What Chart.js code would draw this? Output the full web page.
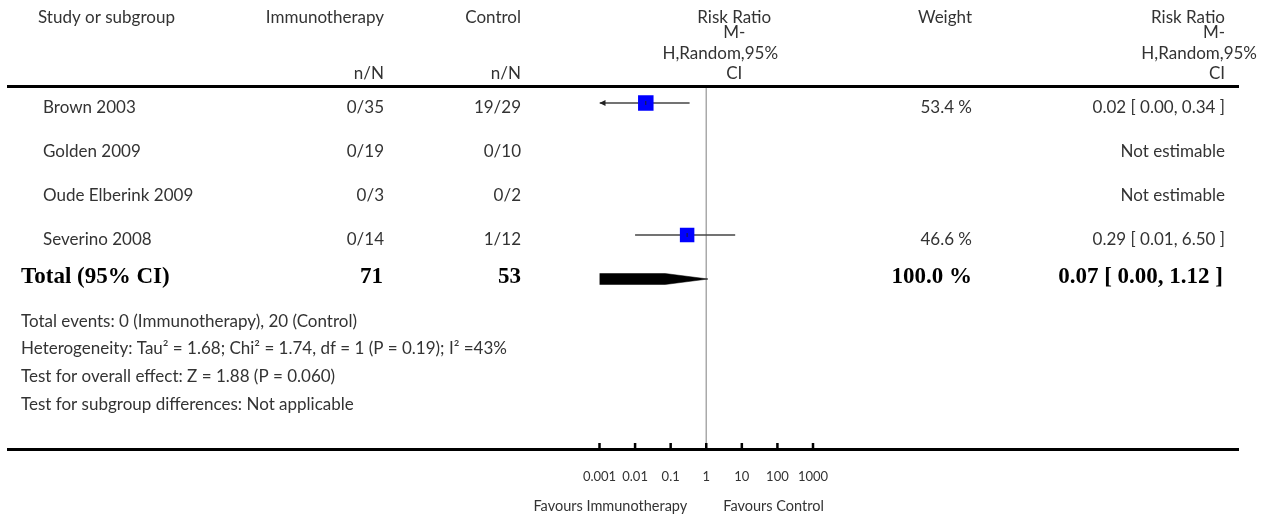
<!DOCTYPE html>
<html>
<head>
<meta charset="utf-8">
<script src="https://cdn.jsdelivr.net/npm/chart.js@4.4.1/dist/chart.umd.min.js"></script>
<style>
  html, body { margin: 0; padding: 0; background: #fff; }
  #forest { display: block; }
</style>
</head>
<body>
<canvas id="forest" width="1270" height="520"></canvas>
<script>
// Studies (rows from top)
const studies = ['Brown 2003', 'Golden 2009', 'Oude Elberink 2009', 'Severino 2008'];
const immunoEvents = ['0/35', '0/19', '0/3', '0/14'];
const controlEvents = ['19/29', '0/10', '0/2', '1/12'];
const riskRatio = [0.02, null, null, 0.29];
const ciLow = [0.00, null, null, 0.01];
const ciHigh = [0.34, null, null, 6.50];
const weights = [53.4, null, null, 46.6];

// Pooled result
const totalLabel = 'Total (95% CI)';
const totalImmuno = '71';
const totalControl = '53';
const totalWeight = 100.0;
const totalRR = 0.07;
const totalLow = 0.00;
const totalHigh = 1.12;

const footnotes = [
  'Total events: 0 (Immunotherapy), 20 (Control)',
  'Heterogeneity: Tau\u00B2 = 1.68; Chi\u00B2 = 1.74, df = 1 (P = 0.19); I\u00B2 =43%',
  'Test for overall effect: Z = 1.88 (P = 0.060)',
  'Test for subgroup differences: Not applicable'
];

// Axis ticks
const tickValues = [0.001, 0.01, 0.1, 1, 10, 100, 1000];
const tickLabels = ['0.001', '0.01', '0.1', '1', '10', '100', '1000'];
const favoursLeft = 'Favours Immunotherapy';
const favoursRight = 'Favours Control';

// Layout (pixels)
const PLOT_TOP = 88, PLOT_BOTTOM = 449, FIRST_ROW = 103, ROW_STEP = 44;
const X_MIN = 0.001, X_MAX = 1000;
const totalRow = studies.length;
const COL_STUDY = 43, COL_IMM = 384, COL_CTL = 521, COL_W = 972, COL_RR = 1225;

const FONT = '"Lato", "Noto Sans", sans-serif';
const SERIF = '"Liberation Serif", "DejaVu Serif", serif';
const TEXT = '#333';
const MAIN = `17px ${FONT}`;
const BOLD = `bold 23px ${SERIF}`;

function fmt(v) { return v.toFixed(2); }
function rrText(i) {
  if (riskRatio[i] == null) return 'Not estimable';
  return `${fmt(riskRatio[i])} [ ${fmt(ciLow[i])}, ${fmt(ciHigh[i])} ]`;
}
const clipX = v => Math.min(Math.max(v, X_MIN), X_MAX);

// Datasets
const datasets = [];
studies.forEach((s, i) => {
  if (riskRatio[i] == null) return;
  datasets.push({
    type: 'scatter',
    showLine: true,
    data: [{ x: clipX(ciLow[i]), y: i }, { x: clipX(ciHigh[i]), y: i }],
    borderColor: '#444',
    borderWidth: 1.6,
    pointRadius: 0,
    order: 2
  });
});

const squares = [];
const squareRadius = [];
studies.forEach((s, i) => {
  if (riskRatio[i] == null) return;
  squares.push({ x: riskRatio[i], y: i });
  // side ~15px, scaled by sqrt(weight)
  squareRadius.push(15 * Math.sqrt(weights[i] / 50) / Math.SQRT2);
});
datasets.push({
  type: 'scatter',
  data: squares,
  pointStyle: 'rect',
  pointRadius: squareRadius,
  backgroundColor: '#0000ff',
  borderWidth: 0,
  order: 1
});

const dh = 0.125;
datasets.push({
  type: 'line',
  data: [
    { x: clipX(totalLow), y: totalRow - dh },
    { x: totalRR, y: totalRow - dh },
    { x: totalHigh, y: totalRow },
    { x: totalRR, y: totalRow + dh },
    { x: clipX(totalLow), y: totalRow + dh },
    { x: clipX(totalLow), y: totalRow - dh }
  ],
  fill: 'shape',
  backgroundColor: '#000',
  borderColor: '#000',
  borderWidth: 0.5,
  pointRadius: 0,
  tension: 0,
  order: 1
});

function text(ctx, str, x, y, align, font, color) {
  ctx.font = font || MAIN;
  ctx.fillStyle = color || TEXT;
  ctx.textAlign = align || 'left';
  ctx.textBaseline = 'alphabetic';
  ctx.fillText(str, x, y);
}

const forestPlugin = {
  id: 'forest',
  beforeDatasetsDraw(chart) {
    const { ctx, scales: { x } } = chart;
    const x1 = x.getPixelForValue(1);
    ctx.save();
    ctx.strokeStyle = '#aaa';
    ctx.lineWidth = 1.5;
    ctx.beginPath();
    ctx.moveTo(x1, PLOT_TOP);
    ctx.lineTo(x1, PLOT_BOTTOM);
    ctx.stroke();
    ctx.restore();
  },
  afterDatasetsDraw(chart) {
    const { ctx, scales: { x, y } } = chart;
    ctx.save();
    // arrows for clipped CIs, centre ticks inside squares
    studies.forEach((s, i) => {
      if (riskRatio[i] == null) return;
      const py = y.getPixelForValue(i);
      if (ciLow[i] < X_MIN) {
        const px = x.getPixelForValue(X_MIN);
        ctx.fillStyle = '#222';
        ctx.beginPath();
        ctx.moveTo(px, py);
        ctx.lineTo(px + 6, py - 3);
        ctx.lineTo(px + 6, py + 3);
        ctx.closePath();
        ctx.fill();
      }
      const pe = x.getPixelForValue(riskRatio[i]);
      ctx.strokeStyle = '#222';
      ctx.lineWidth = 1;
      ctx.beginPath();
      ctx.moveTo(pe, py - 2);
      ctx.lineTo(pe, py + 2);
      ctx.stroke();
    });
    ctx.restore();
  },
  afterDraw(chart) {
    const { ctx, scales: { x, y } } = chart;
    const x1 = x.getPixelForValue(1);
    ctx.save();

    // rules
    ctx.strokeStyle = '#000';
    ctx.lineWidth = 3;
    ctx.beginPath();
    ctx.moveTo(7, PLOT_TOP - 1.5);
    ctx.lineTo(1239, PLOT_TOP - 1.5);
    ctx.moveTo(7, PLOT_BOTTOM + 0.5);
    ctx.lineTo(1239, PLOT_BOTTOM + 0.5);
    ctx.stroke();

    // axis ticks
    ctx.lineWidth = 2.5;
    ctx.beginPath();
    tickValues.forEach(v => {
      const px = x.getPixelForValue(v);
      ctx.moveTo(px, PLOT_BOTTOM - 6);
      ctx.lineTo(px, PLOT_BOTTOM);
    });
    ctx.stroke();
    tickValues.forEach((v, i) => {
      text(ctx, tickLabels[i], x.getPixelForValue(v), 481, 'center', `13px ${FONT}`);
    });
    text(ctx, favoursLeft, x1 - 19, 511, 'right', `14.5px ${FONT}`);
    text(ctx, favoursRight, x1 + 17, 511, 'left', `14.5px ${FONT}`);

    // header
    text(ctx, 'Study or subgroup', 38, 22.5, 'left');
    text(ctx, 'Immunotherapy', COL_IMM, 22.5, 'right');
    text(ctx, 'Control', COL_CTL, 22.5, 'right');
    text(ctx, 'n/N', COL_IMM, 79, 'right');
    text(ctx, 'n/N', COL_CTL, 79, 'right');
    text(ctx, 'Weight', COL_W, 22.5, 'right');
    const rrHead = ['Risk Ratio', 'M-', 'H,Random,95%', 'CI'];
    const rrHeadY = [22.5, 38, 59, 79];
    const midCentre = x1 + 28;
    rrHead.forEach((h, i) => {
      text(ctx, h, i === 2 ? midCentre - 14 : midCentre, rrHeadY[i], 'center');
      // the long line overflows the right column
      text(ctx, h, i === 2 ? 1257 : COL_RR, rrHeadY[i], 'right');
    });

    // study rows
    studies.forEach((s, i) => {
      const py = y.getPixelForValue(i) + 10;
      text(ctx, s, COL_STUDY, py, 'left');
      text(ctx, immunoEvents[i], COL_IMM, py, 'right');
      text(ctx, controlEvents[i], COL_CTL, py, 'right');
      if (weights[i] != null) text(ctx, weights[i].toFixed(1) + ' %', COL_W, py, 'right');
      text(ctx, rrText(i), COL_RR, py, 'right');
    });

    // total row
    const ty = y.getPixelForValue(totalRow) + 4;
    text(ctx, totalLabel, 21, ty, 'left', BOLD, '#000');
    text(ctx, totalImmuno, COL_IMM - 1, ty, 'right', BOLD, '#000');
    text(ctx, totalControl, COL_CTL, ty, 'right', BOLD, '#000');
    text(ctx, totalWeight.toFixed(1) + ' %', COL_W, ty, 'right', BOLD, '#000');
    text(ctx, `${fmt(totalRR)} [ ${fmt(totalLow)}, ${fmt(totalHigh)} ]`, COL_RR - 2, ty, 'right', BOLD, '#000');

    // footnotes
    footnotes.forEach((f, i) => {
      text(ctx, f, 21, 326.5 + i * 27.8, 'left');
    });

    ctx.restore();
  }
};

new Chart(document.getElementById('forest'), {
  type: 'scatter',
  data: { datasets },
  options: {
    responsive: false,
    devicePixelRatio: 1,
    animation: false,
    layout: {
      padding: { left: 599.5, right: 1270 - 813, top: PLOT_TOP, bottom: 520 - PLOT_BOTTOM }
    },
    scales: {
      x: { type: 'logarithmic', min: X_MIN, max: X_MAX, display: false },
      y: {
        type: 'linear',
        reverse: true,
        min: -(FIRST_ROW - PLOT_TOP) / ROW_STEP,
        max: (PLOT_BOTTOM - FIRST_ROW) / ROW_STEP,
        display: false
      }
    },
    plugins: { legend: { display: false }, tooltip: { enabled: false } }
  },
  plugins: [forestPlugin]
});
</script>
</body>
</html>
